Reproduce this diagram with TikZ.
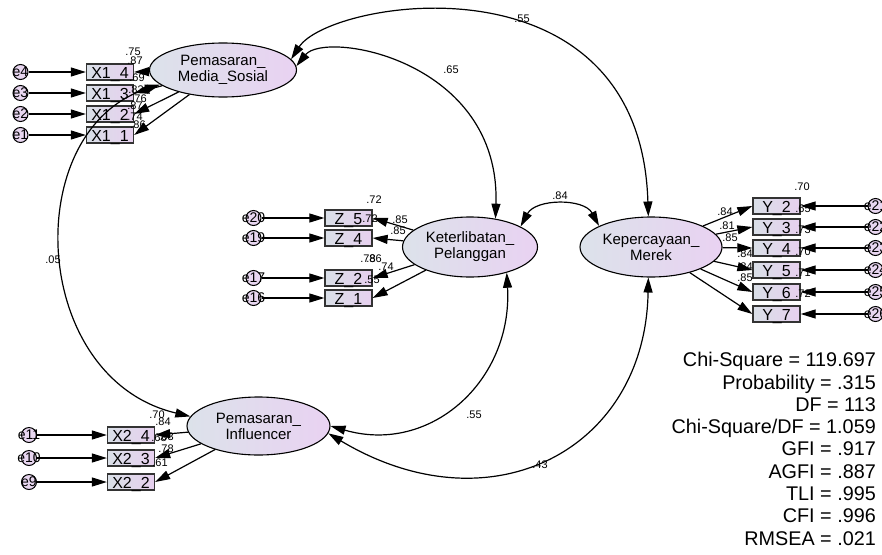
\documentclass[tikz,border=0pt]{standalone}
\usepackage{fontspec}
\setmainfont{Liberation Sans}
\usetikzlibrary{shapes.geometric,arrows.meta}
\definecolor{latL}{HTML}{DCE2EA}
\definecolor{latR}{HTML}{E9D2F2}
\definecolor{boxL}{HTML}{D9DFE7}
\definecolor{boxR}{HTML}{E7D0EF}
\definecolor{errF}{HTML}{E8D6F0}
\tikzset{latent/.style={ellipse, draw=black, line width=1.1pt, left color=latL, right color=latR, inner sep=0pt, align=center, font=\fontsize{15}{16}\selectfont},
  obs/.style={rectangle, draw=black!80, line width=1.3pt, left color=boxL, right color=boxR, minimum width=47pt, minimum height=16pt, inner sep=0pt, text height=12pt, text depth=0pt, font=\fontsize{16}{16}\selectfont},
  err/.style={circle, draw=black, line width=1pt, fill=errF, minimum size=15pt, inner sep=0pt},
  errtxt/.style={font=\fontsize{14}{14}\selectfont, inner sep=0pt},
  coef/.style={font=\fontsize{11}{11}\selectfont, inner sep=0pt},
  load/.style={line width=1.2pt, -{Triangle[length=15pt,width=9pt]}},
  cov/.style={line width=1.2pt, {Triangle[length=15pt,width=9pt]}-{Triangle[length=15pt,width=9pt]}},
  fitline/.style={font=\fontsize{19.8}{22}\selectfont, anchor=base east, inner sep=0pt}}

\begin{document}
\begin{tikzpicture}[x=1pt,y=-1pt]
	\useasboundingbox (0,0) rectangle (882,554);
	% latent variables
	\node[latent, minimum width=147pt, minimum height=54pt] (pms) at (223,70) {Pemasaran\_\\Media\_Sosial};
	\node[latent, minimum width=135pt, minimum height=60pt] (ket) at (470,247) {Keterlibatan\_\\Pelanggan};
	\node[latent, minimum width=142pt, minimum height=60pt] (kep) at (651,247) {Kepercayaan\_\\Merek};
	\node[latent, minimum width=143pt, minimum height=58pt] (pin) at (258.5,426) {Pemasaran\_\\Influencer};
	% indicators
	\foreach \n/\y in {4/72,3/93,2/114,1/135}
		\node[obs] (x1\n) at (110,\y) {X1\_\n};
	\foreach \n/\y in {5/218,4/238,2/278,1/298}
		\node[obs] (z\n) at (348.5,\y) {Z\_\n};
	\foreach \n/\y in {2/206,3/227,4/248,5/270,6/292,7/314}
		\node[obs] (y\n) at (776.5,\y) {Y\_\n};
	\foreach \n/\y in {4/435,3/458,2/482}
		\node[obs] (x2\n) at (131,\y) {X2\_\n};
	% errors
	\foreach \n/\b/\y in {4/x14/72,3/x13/93,2/x12/114,1/x11/135,20/z5/218,19/z4/238,17/z2/278,16/z1/298,11/x24/435,10/x23/458,9/x22/482,21/y2/206,22/y3/227,23/y4/248,24/y5/270,25/y6/292,26/y7/314}{
		\ifnum\n>20 \def\ex{875.5}\else\ifnum\n>15 \def\ex{253.5}\else\ifnum\n>8 \def\ex{29}\else\def\ex{20.5}\fi\fi\fi
		\node[err] (e\n) at (\ex,\y) {};
		\node[errtxt] (te\n) at (e\n) {e\n};
		\draw[load] (e\n) -- (\b);
	}
	% coefficients
	\foreach \x/\y/\lab [count=\i] in {133/52/.75,135/61/.87,137/78/.69,136/90/.83,139/99/.76,135/106/.87,135/117/.74,138/125/.86,
		374/200/.72,370/219/.72,400/220/.85,398/231/.85,368/259/.78,374/259/.86,386/267/.74,372/280/.55,
		802/187/.70,725/212/.84,727/226/.81,730/238/.85,745/254/.84,745/267/.84,745/278/.85,803/209/.65,803/230/.73,803/252/.70,803/273/.71,803/294/.72,
		157/415/.70,163/422/.84,159/438/.68,166/437/.83,166/449/.78,160/463/.61,
		522/19/.55,451/70/.65,560/196/.84,53/260/.05,474/415/.55,540/465/.43}
		\node[coef] (c\i) at (\x,\y) {\lab};
	% loadings
	\foreach \b in {x14,x13,x12,x11}
		\draw[load] (pms) -- (\b.east);
	\foreach \b in {z5,z4,z2,z1}
		\draw[load] (ket) -- (\b.east);
	\foreach \b in {y2,y3,y4,y5,y6,y7}
		\draw[load] (kep) -- (\b.west);
	\foreach \b in {x24,x23,x22}
		\draw[load] (pin) -- (\b.east);
	% covariances
	\draw[cov] (pms.9) .. controls +(39,-60) and +(-8,-267) .. (kep.95);
	\draw[cov] (pms.3) .. controls +(29,-36) and +(5,-159) .. (ket.48);
	\draw[cov] (ket.22) .. controls +(15,-28) and +(-15,-28) .. (kep.158);
	\draw[cov] (pms.193) .. controls +(-141,46) and +(-161,-38) .. (pin.172);
	\draw[cov] (ket.-35) .. controls +(6,108) and +(100,29) .. (pin.0);
	\draw[cov] (kep.-95) .. controls +(-3,173) and +(162,97) .. (pin.-6);
	% fit
	\foreach \lab [count=\i from 0] in {Chi-Square = 119.697,Probability = .315,DF = 113,Chi-Square/DF = 1.059,GFI = .917,AGFI = .887,TLI = .995,CFI = .996,RMSEA = .021}
		\node[fitline] (fit\i) at (876,366.7+22.3*\i) {\lab};
\end{tikzpicture}
\end{document}
